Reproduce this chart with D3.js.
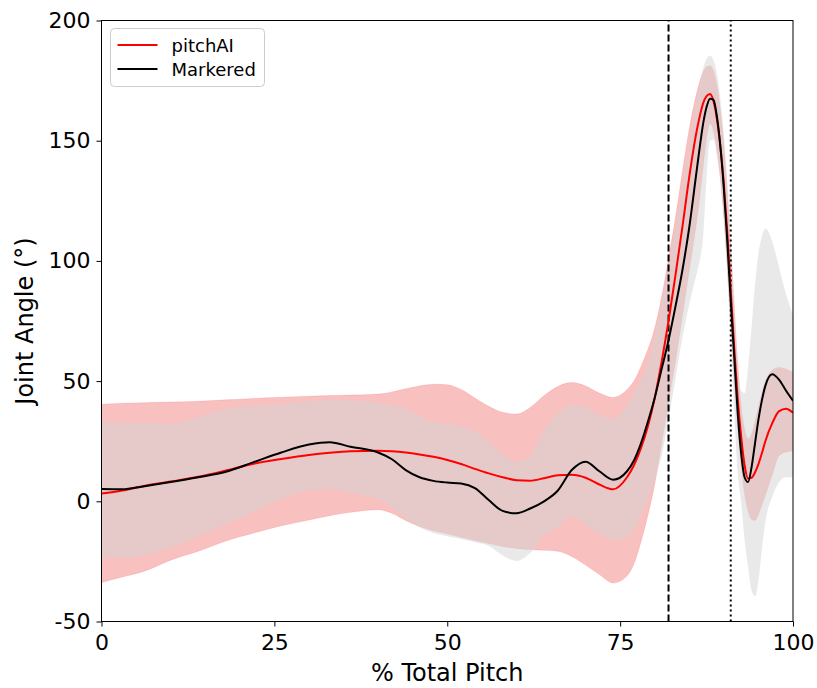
<!DOCTYPE html>
<html>
<head>
<meta charset="utf-8">
<script src="https://cdn.jsdelivr.net/npm/d3@7"></script>
<style>
  html, body { margin: 0; padding: 0; background: #fff; }
  svg { display: block; font-family: "DejaVu Sans", sans-serif; }
</style>
</head>
<body>
<svg id="chart" width="817" height="688"></svg>
<script>
// Percent of total pitch at which each curve is sampled
const pct = [0,3,6,10,14,18,22,26,30,33, 36,40,42,44,46,48,50,52,54,56,
  58,60,62,64,66,68,70,72,74,76, 77,78,79,80,81,82,83,84,85,86,
  86.5,87,87.5,88,88.5,89,90,90.5,91,91.5, 92,92.5,93,93.5,94,94.5,95,95.5,96,97,
  98,99,100];

// pitchAI: mean joint angle and band (deg)
const pitchAIMean = [3.2,4.5,6.3,8.2,10.2,12.8,15.6,17.6,19.3,20.2, 20.8,21,20.8,20.3,19.5,18.5,17.2,15.5,13.5,11.6,
  10,8.8,8.6,9.6,10.8,11,9.8,7,5,10, 15,22,31,43,58,75,94,114,135,153,
  160,165.5,168.5,169.4,166.5,159,132,112,88,64, 43,27,15,9.5,9.8,12,15.5,20,25,32.5,
  37.5,38.5,36.8];
const pitchAIUpper = [40.4,40.8,41,41.3,41.6,42.2,42.8,43.3,43.7,44, 44.2,44.6,45.5,46.8,48,48.7,48.5,46.5,43,39.5,
  37,36.3,39,44,47.8,49.4,48,45,43.2,46.5, 50,56,63,72,85,101,118,137,155,169,
  174.5,178.5,180.8,181.2,179,173,148,128,104,80, 57,40,30,26,28,33,39,45,50,54.5,
  55.7,55,53.6];
const pitchAILower = [-33.8,-31.5,-29.3,-24.5,-20.8,-16.5,-13.2,-10.2,-7.8,-6, -4.6,-3.5,-5,-8,-10.5,-12.3,-13.5,-15,-16.3,-17.6,
  -18.8,-19.6,-20.1,-20.4,-20.8,-23,-26.5,-30.5,-34,-31, -26,-17,-6,7,24,41,58,77,96,115,
  126,139,151,157,154,146,118,97,73,50, 30,15,3,-4,-7.5,-8,-5.5,-1.5,2.5,11,
  19,20.5,21];

// Markered: mean joint angle and band (deg)
const markeredMean = [5.1,5.0,6.2,8.0,10.0,12.3,16.3,20.3,23.6,24.6, 22.7,20.3,17.5,13,10,8.5,7.8,7.4,5.5,0.5,
  -4,-5,-3,0,4.5,13,16.5,12.5,9,12.5, 17,24,33,43,55,67,81,96,114,136,
  147,157,164,167.5,167,160,130,108,83,60, 37,20,10,8,14,24,34,42,48,52.8,
  50.5,46,41.8];
const markeredUpper = [32.8,32.8,32.6,32.2,35,38.3,39.8,40.4,41.5,42.2, 42,41,40,38.6,35.5,33,32,31.2,29,25,
  19.5,16.3,19,29.5,36.5,40.2,39,36,34.2,40.4, 45,50,57,68,82,97,113,130,148,166,
  174,180,184,185.3,183.5,178,152,133,110,85, 60,46,45,55.7,72,90,103,110,113.5,108,
  97,86,77.5];
const markeredLower = [-23.4,-23.5,-22.5,-19,-14.4,-9.5,-4.5,1,4.5,5, 3.5,1,-2.5,-7,-10.8,-13.2,-14.5,-15.7,-17,-18.5,
  -22.5,-24.8,-21.5,-14,-11,-6.2,-9.5,-13.5,-16,-15, -11.5,-6,1,9,19,34,51,68,82,94,
  100,110,135,150,150.5,144,118,95,70,38, 12,0,-16,-27,-37,-39.5,-33,-20,-8.5,2,
  8,10,10];

// Phase markers (% of pitch)
const phaseDashed = 82;
const phaseDotted = 91;

const xTicks = [0, 25, 50, 75, 100];
const yTicks = [-50, 0, 50, 100, 150, 200];
const seriesNames = ["pitchAI", "Markered"];

const svg = d3.select("#chart");
const margin = { left: 101.5, right: 24, top: 20.5, bottom: 66.5 };
const W = 817, H = 688;

const x = d3.scaleLinear().domain([0, 100]).range([margin.left, W - margin.right]);
const y = d3.scaleLinear().domain([-50, 200]).range([H - margin.bottom, margin.top]);

svg.append("clipPath").attr("id", "plotClip")
  .append("rect")
  .attr("x", x(0)).attr("y", y(200))
  .attr("width", x(100) - x(0)).attr("height", y(-50) - y(200));

const plot = svg.append("g").attr("clip-path", "url(#plotClip)");

const curve = d3.curveMonotoneX;

function band(lower, upper) {
  return d3.area()
    .x((d, i) => x(pct[i]))
    .y0((d, i) => y(lower[i]))
    .y1((d, i) => y(upper[i]))
    .curve(curve)(pct);
}
function line(vals) {
  return d3.line()
    .x((d, i) => x(pct[i]))
    .y((d, i) => y(vals[i]))
    .curve(curve)(pct);
}

// Spread bands
plot.append("path").attr("d", band(pitchAILower, pitchAIUpper))
  .attr("fill", "rgba(232,10,10,0.26)").attr("stroke", "rgba(232,10,10,0.1)").attr("stroke-width", 1);
plot.append("path").attr("d", band(markeredLower, markeredUpper))
  .attr("fill", "rgba(211,211,211,0.5)");

// Phase lines
plot.append("line")
  .attr("x1", x(phaseDashed)).attr("x2", x(phaseDashed))
  .attr("y1", y(-50)).attr("y2", y(200))
  .attr("stroke", "#000").attr("stroke-width", 2).attr("stroke-dasharray", "7,3");
plot.append("line")
  .attr("x1", x(phaseDotted)).attr("x2", x(phaseDotted))
  .attr("y1", y(-50)).attr("y2", y(200))
  .attr("stroke", "#000").attr("stroke-width", 2).attr("stroke-dasharray", "2,3");

// Mean curves
plot.append("path").attr("d", line(pitchAIMean))
  .attr("fill", "none").attr("stroke", "#ff0000").attr("stroke-width", 2);
plot.append("path").attr("d", line(markeredMean))
  .attr("fill", "none").attr("stroke", "#000").attr("stroke-width", 2);

// Axes
const fontTick = 22;
const xAxis = svg.append("g")
  .attr("transform", `translate(0,${y(-50)})`)
  .call(d3.axisBottom(x).tickValues(xTicks).tickSize(5).tickPadding(8).tickFormat(d3.format("d")));
const yAxis = svg.append("g")
  .attr("transform", `translate(${x(0)},0)`)
  .call(d3.axisLeft(y).tickValues(yTicks).tickSize(5).tickPadding(6).tickFormat(d => String(d)));
[xAxis, yAxis].forEach(g => {
  g.select(".domain").remove();
  g.selectAll("line").attr("stroke", "#000").attr("stroke-width", 1);
  g.selectAll("text").attr("font-size", fontTick).attr("fill", "#000")
    .attr("font-family", "DejaVu Sans, sans-serif");
});

// Frame
svg.append("rect")
  .attr("x", x(0)).attr("y", y(200))
  .attr("width", x(100) - x(0)).attr("height", y(-50) - y(200))
  .attr("fill", "none").attr("stroke", "#000").attr("stroke-width", 1);

// Axis titles
svg.append("text")
  .attr("x", (x(0) + x(100)) / 2).attr("y", 681)
  .attr("text-anchor", "middle").attr("font-size", 24).text("% Total Pitch");
svg.append("text")
  .attr("transform", `translate(33,${(y(-50) + y(200)) / 2}) rotate(-90)`)
  .attr("text-anchor", "middle").attr("font-size", 24).text("Joint Angle (°)");

// Legend
const lg = svg.append("g").attr("transform", "translate(110.5,28.5)");
lg.append("rect").attr("width", 154).attr("height", 58).attr("rx", 4)
  .attr("fill", "rgba(255,255,255,0.8)").attr("stroke", "#cccccc").attr("stroke-width", 1);
const legendColors = ["#ff0000", "#000000"];
seriesNames.forEach((name, i) => {
  const cy = 16.5 + i * 24;
  lg.append("line").attr("x1", 7).attr("x2", 47).attr("y1", cy).attr("y2", cy)
    .attr("stroke", legendColors[i]).attr("stroke-width", 2);
  lg.append("text").attr("x", 61).attr("y", cy + 6.5).attr("font-size", 18).text(name);
});
</script>
</body>
</html>
